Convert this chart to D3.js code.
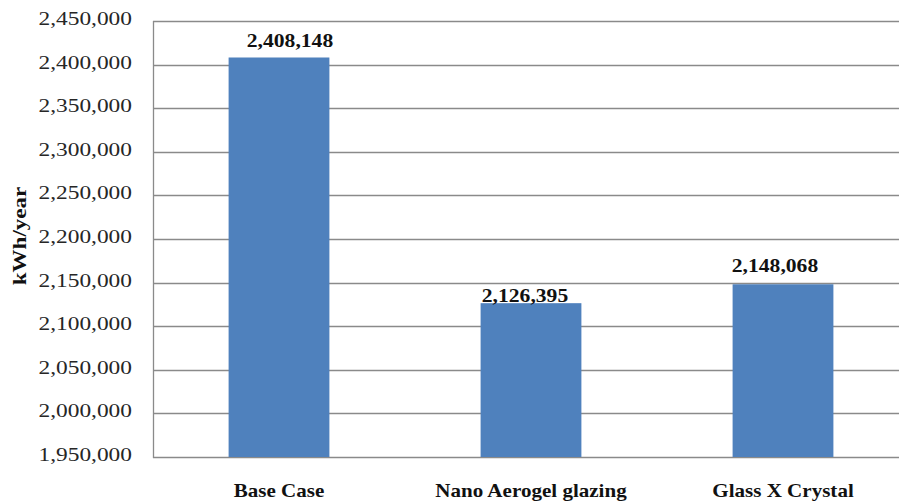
<!DOCTYPE html>
<html><head><meta charset="utf-8">
<script src="https://cdn.jsdelivr.net/npm/d3@7"></script>
<style>
html,body{margin:0;padding:0;background:#fff;}
svg{display:block;}
</style></head>
<body>
<svg id="chart" width="899" height="501"></svg>
<script>
// ---- data ----
const categories = ["Base Case", "Nano Aerogel glazing", "Glass X Crystal"];
const values = [2408148, 2126395, 2148068];
const yTicks = [1950000, 2000000, 2050000, 2100000, 2150000, 2200000, 2250000, 2300000, 2350000, 2400000, 2450000];
const yTitle = "kWh/year";

// ---- layout ----
const FONT = "'Liberation Serif', 'Times New Roman', Times, serif";
const plot = {left: 153, top: 21, right: 909, bottom: 457};
const labelNudge = [[11, -10], [-6, -1], [-8, -12]]; // manual label placement in original

const svg = d3.select("#chart");
const fmt = d3.format(",");

const x = d3.scaleBand().domain(categories).range([plot.left, plot.right])
  .paddingInner(0.6).paddingOuter(0.3);
const y = d3.scaleLinear().domain([yTicks[0], yTicks[yTicks.length - 1]]).range([plot.bottom, plot.top]);

// gridlines
svg.append("g").selectAll("line").data(yTicks).join("line")
  .attr("x1", plot.left).attr("x2", plot.right)
  .attr("y1", d => Math.round(y(d)) + 0.5).attr("y2", d => Math.round(y(d)) + 0.5)
  .attr("stroke", "#8a8a8a").attr("stroke-width", 1.3);

// y axis line
svg.append("line").attr("x1", plot.left + 0.5).attr("x2", plot.left + 0.5)
  .attr("y1", plot.top).attr("y2", plot.bottom + 1)
  .attr("stroke", "#8a8a8a").attr("stroke-width", 1.3);

// y tick labels
svg.append("g").selectAll("text").data(yTicks).join("text")
  .attr("transform", d => `translate(132,${y(d) + 4}) scale(1.3,1)`)
  .attr("text-anchor", "end")
  .attr("font-family", FONT)
  .attr("font-size", 18).attr("fill", "#262626")
  .text(d => fmt(d));

// bars
svg.append("g").selectAll("rect").data(values).join("rect")
  .attr("x", (d, i) => x(categories[i]))
  .attr("width", x.bandwidth())
  .attr("y", d => y(d))
  .attr("height", d => plot.bottom - y(d))
  .attr("fill", "#4f81bd");

// value labels
svg.append("g").selectAll("text").data(values).join("text")
  .attr("transform", (d, i) => `translate(${x(categories[i]) + x.bandwidth() / 2 + labelNudge[i][0]},${y(d) + labelNudge[i][1]}) scale(1.2,1)`)
  .attr("text-anchor", "middle")
  .attr("font-family", FONT)
  .attr("font-size", 18).attr("font-weight", "bold").attr("fill", "#111")
  .text(d => fmt(d));

// category labels
svg.append("g").selectAll("text").data(categories).join("text")
  .attr("transform", d => `translate(${x(d) + x.bandwidth() / 2},497) scale(1.17,1)`)
  .attr("text-anchor", "middle")
  .attr("font-family", FONT)
  .attr("font-size", 18).attr("font-weight", "bold").attr("fill", "#111")
  .text(d => d);

// y title
svg.append("text")
  .attr("transform", `translate(26,236) rotate(-90) scale(1.28,1)`)
  .attr("text-anchor", "middle")
  .attr("font-family", FONT)
  .attr("font-size", 18).attr("font-weight", "bold").attr("fill", "#111")
  .text(yTitle);
</script>
</body></html>
